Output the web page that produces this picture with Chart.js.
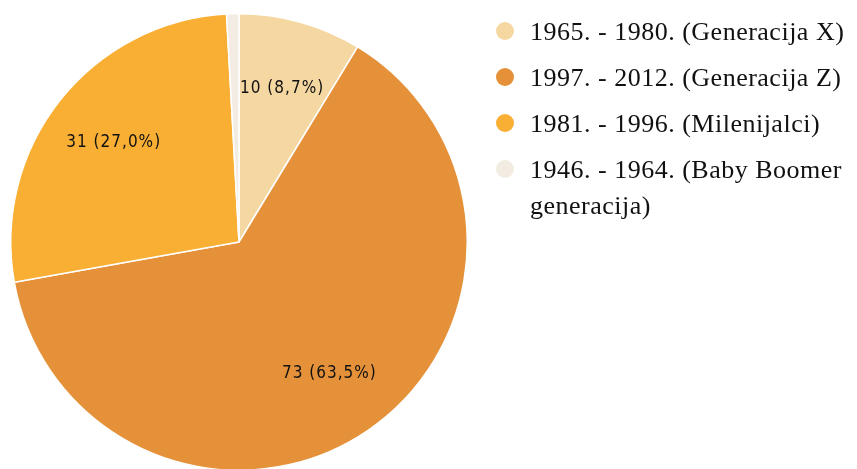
<!DOCTYPE html>
<html>
<head>
<meta charset="utf-8">
<script src="https://cdn.jsdelivr.net/npm/chart.js@4.4.0/dist/chart.umd.min.js"></script>
<style>
  html, body { margin: 0; padding: 0; background: #fff; overflow: hidden; }
  #wrap { position: relative; width: 857px; height: 471px; }
  #legend { position: absolute; left: 496px; top: 14px; width: 361px;
    font-family: "Liberation Serif", "Times New Roman", serif; font-size: 26px;
    letter-spacing: 0.5px; color: #111; }
  .item { position: relative; padding-left: 34px; line-height: 36px; margin-bottom: 10px; }
  .dot { position: absolute; left: 0px; top: 8px; width: 18px; height: 18px; border-radius: 50%; }
</style>
</head>
<body>
<div id="wrap">
  <canvas id="pie"></canvas>
  <div id="legend"></div>
</div>
<script>
// Data
const labels = [
  '1965. - 1980. (Generacija X)',
  '1997. - 2012. (Generacija Z)',
  '1981. - 1996. (Milenijalci)',
  '1946. - 1964. (Baby Boomer generacija)'
];
const counts = [10, 73, 31, 1];
const colors = ['#F5D7A2', '#E5913A', '#F9AF34', '#F2ECE2'];

// Build the legend by hand so it wraps like the original
const legendEl = document.getElementById('legend');
labels.forEach((text, i) => {
  const row = document.createElement('div');
  row.className = 'item';
  row.innerHTML = '<span class="dot" style="background:' + colors[i] + '"></span>' + text;
  legendEl.appendChild(row);
});

// Draw "value (pct%)" inside each big slice
const sliceLabels = {
  id: 'sliceLabels',
  afterDatasetsDraw(chart) {
    const ctx = chart.ctx;
    const meta = chart.getDatasetMeta(0);
    const total = counts.reduce((a, b) => a + b, 0);
    ctx.save();
    ctx.font = '17px "DejaVu Sans Condensed", "DejaVu Sans", sans-serif';
    ctx.letterSpacing = '1px';
    ctx.fillStyle = '#111';
    ctx.textAlign = 'center';
    ctx.textBaseline = 'middle';
    meta.data.forEach((arc, i) => {
      const pct = counts[i] / total * 100;
      if (pct < 3) return;
      const p = arc.getProps(['x', 'y', 'startAngle', 'endAngle', 'outerRadius']);
      const mid = (p.startAngle + p.endAngle) / 2;
      const r = p.outerRadius * 0.7;
      const text = counts[i] + ' (' + pct.toFixed(1).replace('.', ',') + '%)';
      ctx.fillText(text, p.x + Math.cos(mid) * r, p.y + Math.sin(mid) * r);
    });
    ctx.restore();
  }
};

new Chart(document.getElementById('pie'), {
  type: 'pie',
  data: {
    labels: labels,
    datasets: [{
      data: counts,
      backgroundColor: colors,
      borderColor: '#fff',
      borderWidth: 1.5
    }]
  },
  options: {
    responsive: true,
    maintainAspectRatio: false,
    animation: false,
    layout: { padding: { left: 10, top: 13, right: 389, bottom: 0 } },
    plugins: {
      legend: { display: false },
      tooltip: { enabled: false }
    }
  },
  plugins: [sliceLabels]
});
</script>
</body>
</html>
